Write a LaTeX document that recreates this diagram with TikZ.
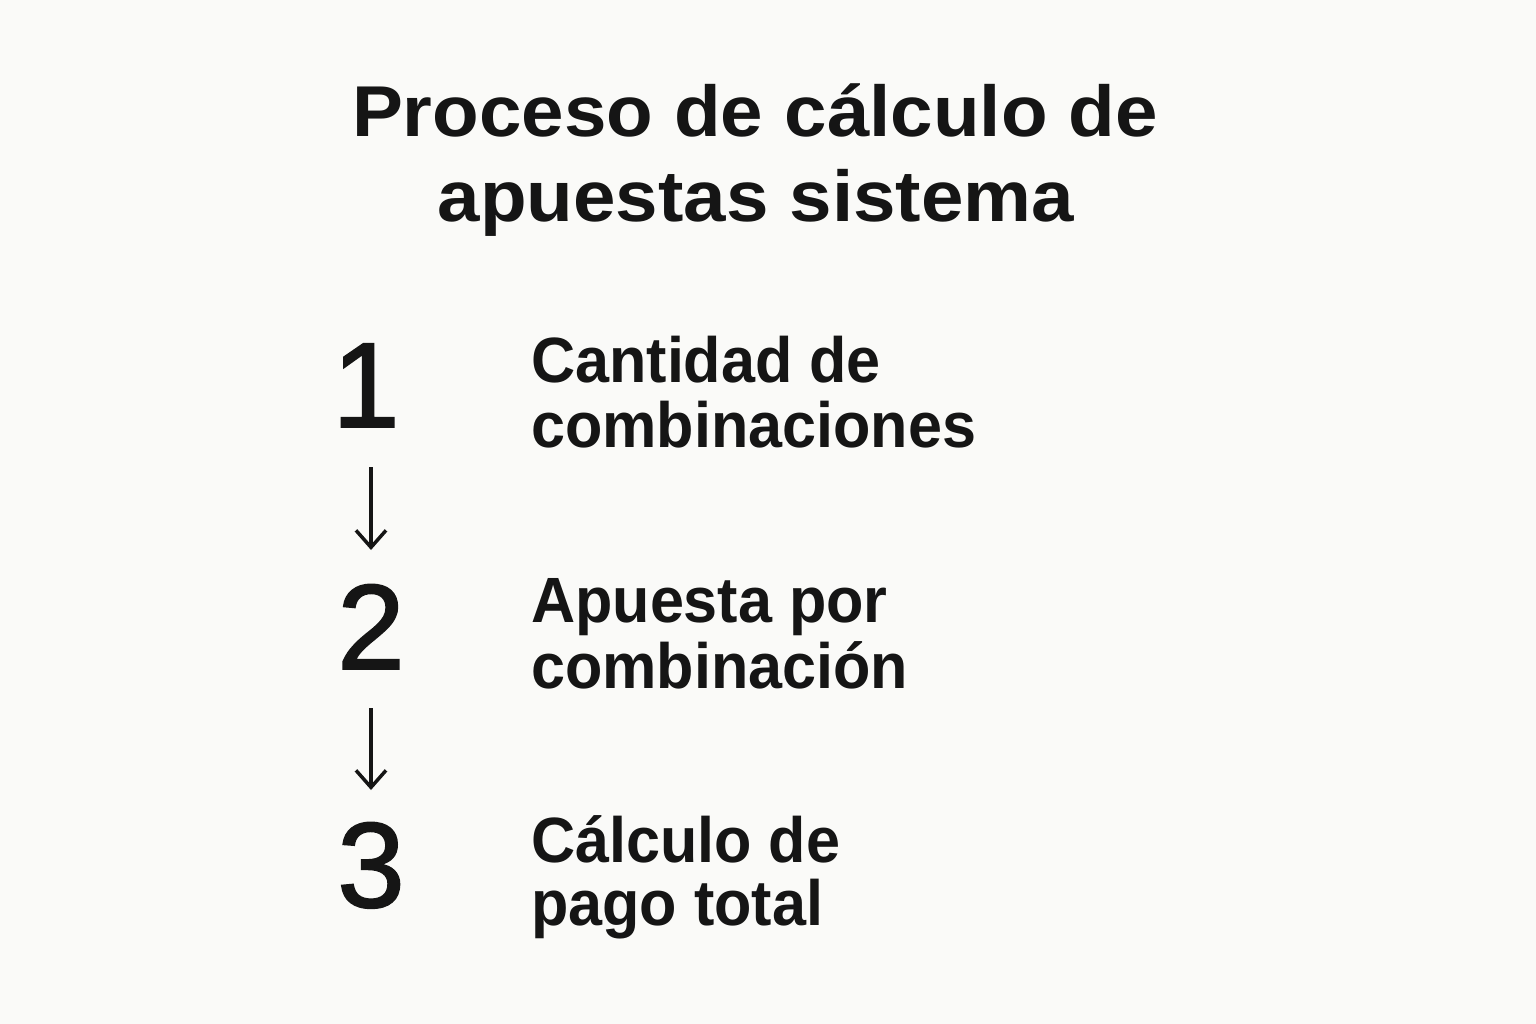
\documentclass[tikz,border=0pt]{standalone}
\usepackage{fontspec}
\setmainfont{Liberation Sans}
\newfontfamily\numfont[FakeBold=1.6]{Liberation Sans}
\usetikzlibrary{arrows.meta}
\definecolor{bg}{HTML}{FAFAF8}
\definecolor{ink}{HTML}{151515}
\begin{document}
\begin{tikzpicture}[x=1pt,y=-1pt,
  titletext/.style={anchor=base,text=ink,font=\fontsize{72}{85}\selectfont\bfseries,xscale=1.06,transform shape,inner sep=0},
  steptext/.style={anchor=base west,text=ink,font=\fontsize{64}{65}\selectfont\bfseries,xscale=0.955,transform shape,inner sep=0},
  numtext/.style={anchor=base,text=ink,font=\numfont\fontsize{121}{121}\selectfont,inner sep=0},
  flow/.style={draw=ink,line width=3.5pt,-{Straight Barb[length=17pt,width=30pt,line width=3.5pt]}}]
\fill[bg] (0,0) rectangle (1536,1024);
\useasboundingbox (0,0) rectangle (1536,1024);
\node[titletext] (t1) at (755,137) {Proceso de cálculo de};
\node[titletext] (t2) at (756,222) {apuestas sistema};
\node[numtext] (n1) at (366,427) {1};
\node[numtext] (n2) at (371,669) {2};
\node[numtext] (n3) at (371,907) {3};
\node[steptext] (s1a) at (531,382) {Cantidad de};
\node[steptext] (s1b) at (531,447) {combinaciones};
\node[steptext] (s2a) at (531,622) {Apuesta por};
\node[steptext] (s2b) at (531,688) {combinación};
\node[steptext] (s3a) at (531,862) {Cálculo de};
\node[steptext] (s3b) at (531,925) {pago total};
\coordinate (a1s) at (371,467);
\coordinate (a1e) at (371,550);
\coordinate (a2s) at (371,708);
\coordinate (a2e) at (371,790);
\draw[flow] (a1s) -- (a1e);
\draw[flow] (a2s) -- (a2e);
\end{tikzpicture}
\end{document}
